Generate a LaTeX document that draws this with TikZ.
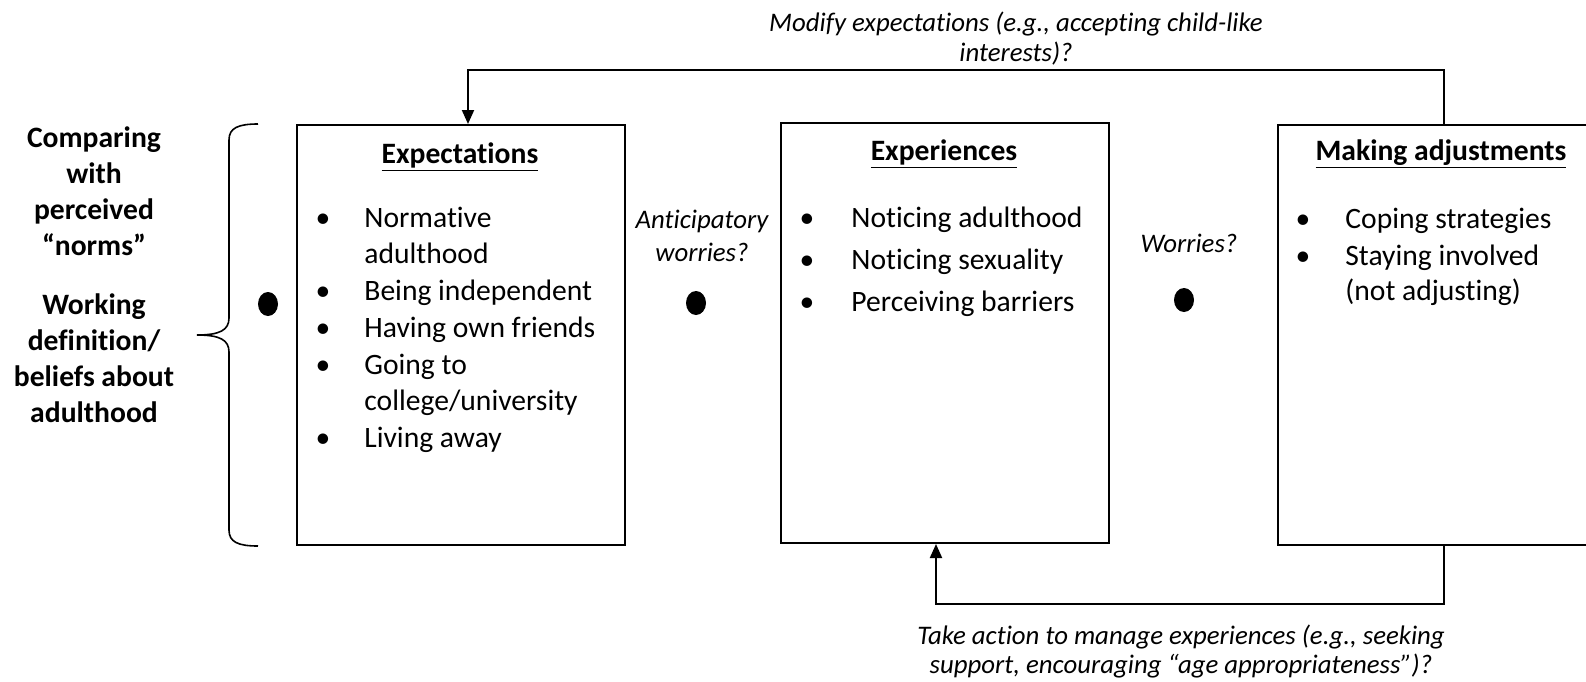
\documentclass[tikz,border=0pt]{standalone}
\usepackage{fontspec}
\setmainfont{Carlito}[Ligatures=NoCommon]
\usetikzlibrary{arrows.meta, shapes.geometric}

\begin{document}
\begin{tikzpicture}[x=0.5pt, y=-0.5pt,
	box/.style = {draw, line width=1pt, anchor = north west, minimum width=164pt, minimum height=210pt, inner sep=0pt},
	head/.style = {anchor = base, inner sep=0pt, font=\fontsize{14.8}{17}\selectfont\bfseries},
	item/.style = {anchor = base west, inner sep=0pt, font=\fontsize{14.8}{17}\selectfont},
	bul/.style = {anchor = base, inner sep=0pt, font=\fontsize{14.8}{17}\selectfont},
	dot/.style = {ellipse, fill, inner sep=0pt, minimum width=10pt, minimum height=12pt},
	side/.style = {align=center, inner sep=0pt, font=\fontsize{14.8}{18}\selectfont\bfseries},
	note/.style = {align=center, inner sep=0pt, font=\fontsize{13.4}{16.5}\selectfont\itshape},
	arr/.style = {line width=1pt, -{Triangle[length=7pt, width=6pt]}}
]
	\useasboundingbox (0,0) rectangle (1586,681);

	\node[box] (exp) at (296,124) {};
	\node[box] (expr) at (780,122) {};
	\node[box] (adj) at (1277,124) {};

	\node[head] (exph) at (460,163) {\underline{Expectations}};
	\node[head] (exprh) at (944,160) {\underline{Experiences}};
	\node[head] (adjh) at (1441,160) {\underline{Making adjustments}};

	\foreach \t/\y [count=\i] in {Normative/227, adulthood/263, Being independent/300, Having own friends/337, Going to/374, {college/university}/410, Living away/447}
		\node[item] (e\i) at (364,\y) {\t};
	\foreach \y [count=\i] in {227,300,337,374,447}
		\node[bul] (eb\i) at (323,\y) {•};

	\foreach \t/\y [count=\i] in {Noticing adulthood/227, Noticing sexuality/269, Perceiving barriers/311}
	{
		\node[item] (x\i) at (851,\y) {\t};
		\node[bul] (xb\i) at (807,\y) {•};
	}

	\foreach \t/\y [count=\i] in {Coping strategies/228, Staying involved/265, (not adjusting)/300}
		\node[item] (a\i) at (1345,\y) {\t};
	\foreach \y [count=\i] in {228,265}
		\node[bul] (ab\i) at (1303,\y) {•};

	\node[side] (cmp) at (94,191) {Comparing\\with\\perceived\\“norms”};
	\node[side] (wrk) at (94,358) {Working\\definition/\\beliefs about\\adulthood};

	\draw[line width=0.8pt] (258,124) .. controls (238,124) and (229,128) .. (229,140) -- (229,318)
		.. controls (229,330) and (220,335) .. (197,335) .. controls (220,335) and (229,340) .. (229,352)
		-- (229,530) .. controls (229,542) and (238,546) .. (258,546);

	\node[dot] (d1) at (268,304) {};
	\node[dot] (d2) at (696,303) {};
	\node[dot] (d3) at (1184,300) {};

	\node[note] (antic) at (702,236) {Anticipatory\\worries?};
	\node[note] (worr) at (1189,243) {Worries?};

	\coordinate (t1) at (1444,70);
	\coordinate (t2) at (468,70);
	\draw[arr] (adj.north -| t1) -- (t1) -- (t2) -- (exp.north -| t2);
	\node[note, anchor = base, font=\fontsize{13.4}{15}\selectfont\itshape] (modn) at (1016,61) {Modify expectations (e.g., accepting child-like\\interests)?};

	\coordinate (b1) at (1444,604);
	\coordinate (b2) at (936,604);
	\draw[arr] (adj.south -| b1) -- (b1) -- (b2) -- (expr.south -| b2);
	\node[note, anchor = base, font=\fontsize{13.4}{14.5}\selectfont\itshape] (actn) at (1181,673) {Take action to manage experiences (e.g., seeking\\support, encouraging “age appropriateness”)?};
\end{tikzpicture}
\end{document}
